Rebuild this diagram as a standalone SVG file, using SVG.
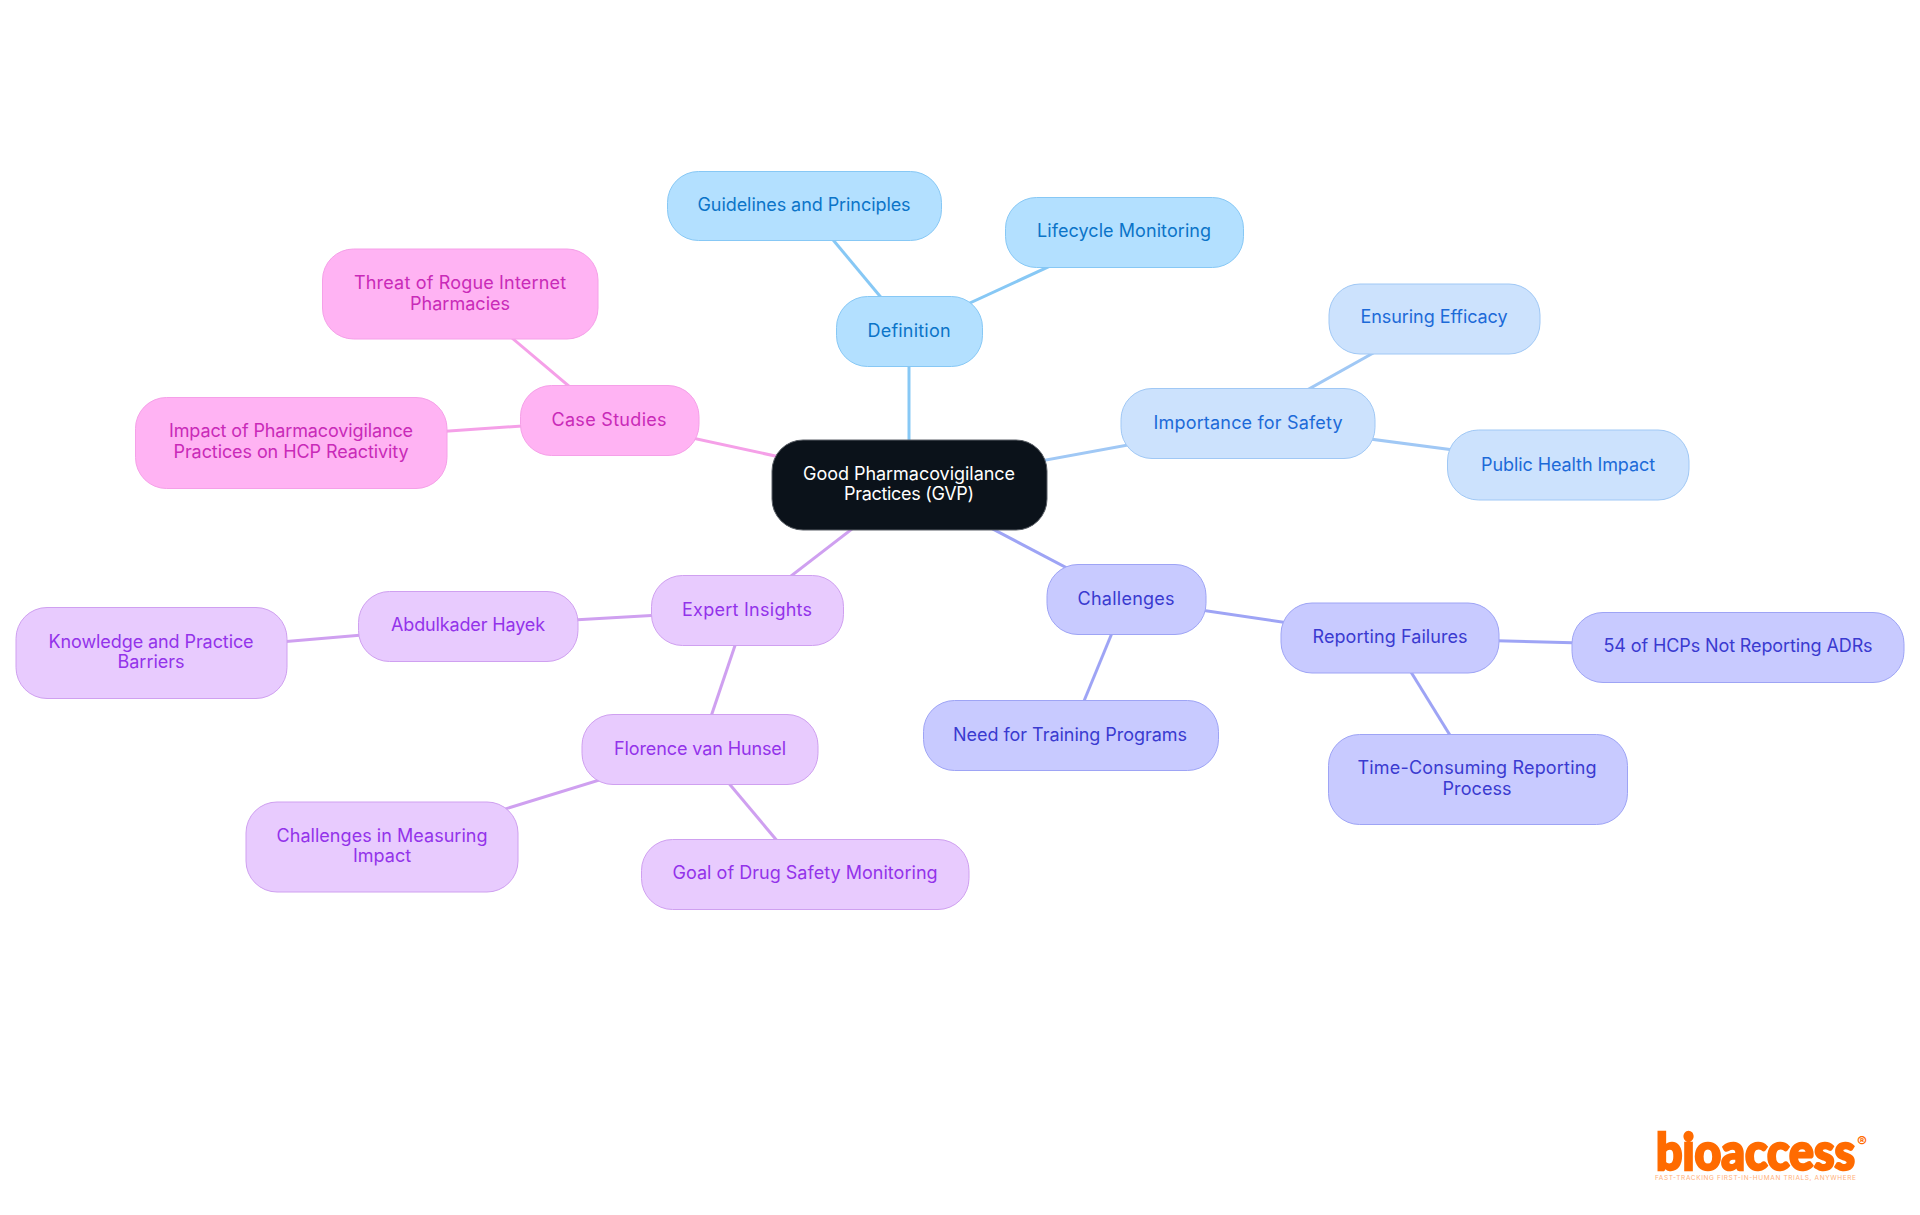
<svg xmlns="http://www.w3.org/2000/svg" width="1920" height="1215" viewBox="0 0 1920 1215">
<style>
text{font-family:"Inter","Noto Sans",sans-serif;font-size:18px;font-weight:400;text-anchor:middle;letter-spacing:-.1px}
.n rect{stroke-width:1;rx:31px}
.e line{stroke-width:3;fill:none}
.root rect{fill:#0b121a;stroke:#5a5f66}.root text{fill:#fff}
.a rect{fill:#b3e0ff;stroke:#87c8f5}.a text{fill:#0b74c8}
.b rect{fill:#cce2fd;stroke:#a0c8f5}.b text{fill:#1c6ad8}
.c rect{fill:#c8caff;stroke:#9ea4f5}.c text{fill:#3a3ad0}
.d rect{fill:#e8cbfe;stroke:#cfa0f0}.d text{fill:#9333ea}
.f rect{fill:#ffb3f3;stroke:#f5a0e8}.f text{fill:#c92ab8}
.la{stroke:#87c8f5}.lb{stroke:#a0c8f5}.lc{stroke:#9ea4f5}.ld{stroke:#cfa0f0}.lf{stroke:#f5a0e8}
</style>
<g id="connectors" class="e">
<line class="la" x1="909" y1="485" x2="909" y2="331"/>
<line class="la" x1="909" y1="331" x2="804" y2="205"/>
<line class="la" x1="909" y1="331" x2="1124" y2="232"/>
<line class="lb" x1="909" y1="485" x2="1248" y2="423"/>
<line class="lb" x1="1248" y1="423" x2="1434" y2="319"/>
<line class="lb" x1="1248" y1="423" x2="1568" y2="465"/>
<line class="lc" x1="909" y1="485" x2="1126" y2="599"/>
<line class="lc" x1="1126" y1="599" x2="1390" y2="638"/>
<line class="lc" x1="1126" y1="599" x2="1070" y2="735"/>
<line class="lc" x1="1390" y1="638" x2="1738" y2="647"/>
<line class="lc" x1="1390" y1="638" x2="1477" y2="779"/>
<line class="ld" x1="909" y1="485" x2="747" y2="610"/>
<line class="ld" x1="747" y1="610" x2="468" y2="626"/>
<line class="ld" x1="468" y1="626" x2="151" y2="653"/>
<line class="ld" x1="747" y1="610" x2="700" y2="749"/>
<line class="ld" x1="700" y1="749" x2="382" y2="847"/>
<line class="ld" x1="700" y1="749" x2="805" y2="874"/>
<line class="lf" x1="909" y1="485" x2="609" y2="420"/>
<line class="lf" x1="609" y1="420" x2="460" y2="294"/>
<line class="lf" x1="609" y1="420" x2="291" y2="442"/>
</g>
<g id="root" class="n root"><rect x="772" y="440" width="275" height="90"/><text x="909" y="480" textLength="212">Good Pharmacovigilance</text><text x="909" y="500" textLength="130">Practices (GVP)</text></g>
<g id="definition" class="n a"><rect x="836.500" y="296.500" width="146" height="70"/><text x="909" y="337" textLength="83">Definition</text></g>
<g id="guidelines" class="n a"><rect x="667.500" y="171.500" width="274" height="69"/><text x="804" y="211" textLength="213">Guidelines and Principles</text></g>
<g id="lifecycle" class="n a"><rect x="1005.500" y="197.500" width="238" height="70"/><text x="1124" y="237" textLength="174">Lifecycle Monitoring</text></g>
<g id="importance" class="n b"><rect x="1121" y="388.500" width="254" height="70"/><text x="1248" y="429" textLength="189">Importance for Safety</text></g>
<g id="efficacy" class="n b"><rect x="1329" y="284" width="211" height="70"/><text x="1434" y="323" textLength="147">Ensuring Efficacy</text></g>
<g id="publichealth" class="n b"><rect x="1447.500" y="430" width="241.500" height="70"/><text x="1568" y="471" textLength="174">Public Health Impact</text></g>
<g id="challenges" class="n c"><rect x="1047" y="564.500" width="159" height="70"/><text x="1126" y="605" textLength="97">Challenges</text></g>
<g id="reporting" class="n c"><rect x="1281" y="603" width="218" height="70"/><text x="1390" y="643" textLength="155">Reporting Failures</text></g>
<g id="hcps" class="n c"><rect x="1572" y="612.500" width="332" height="70"/><text x="1738" y="652" textLength="269">54 of HCPs Not Reporting ADRs</text></g>
<g id="timeconsuming" class="n c"><rect x="1328.500" y="734.500" width="299" height="90"/><text x="1477" y="774" textLength="239">Time-Consuming Reporting</text><text x="1477" y="795" textLength="69">Process</text></g>
<g id="training" class="n c"><rect x="923.500" y="700.500" width="295" height="70"/><text x="1070" y="741" textLength="234">Need for Training Programs</text></g>
<g id="expert" class="n d"><rect x="651.500" y="575.500" width="192" height="70"/><text x="747" y="616" textLength="130">Expert Insights</text></g>
<g id="abdulkader" class="n d"><rect x="358.500" y="591.500" width="219.500" height="70"/><text x="468" y="631" textLength="154">Abdulkader Hayek</text></g>
<g id="barriers" class="n d"><rect x="16" y="607.500" width="271" height="91"/><text x="151" y="648" textLength="205">Knowledge and Practice</text><text x="151" y="668" textLength="67">Barriers</text></g>
<g id="florence" class="n d"><rect x="582" y="714.500" width="236" height="70"/><text x="700" y="755" textLength="172">Florence van Hunsel</text></g>
<g id="measuring" class="n d"><rect x="246" y="802" width="272" height="90"/><text x="382" y="842" textLength="211">Challenges in Measuring</text><text x="382" y="862" textLength="58">Impact</text></g>
<g id="goal" class="n d"><rect x="641.500" y="839.500" width="327.500" height="70"/><text x="805" y="879" textLength="265">Goal of Drug Safety Monitoring</text></g>
<g id="casestudies" class="n f"><rect x="520.500" y="385.500" width="178.500" height="70"/><text x="609" y="426" textLength="115">Case Studies</text></g>
<g id="threat" class="n f"><rect x="322.500" y="249" width="275.500" height="90"/><text x="460" y="289" textLength="212">Threat of Rogue Internet</text><text x="460" y="310" textLength="100">Pharmacies</text></g>
<g id="impact" class="n f"><rect x="135.500" y="397.500" width="311.500" height="91"/><text x="291" y="437" textLength="244">Impact of Pharmacovigilance</text><text x="291" y="458" textLength="235">Practices on HCP Reactivity</text></g>
<g id="logo">
<text x="1656" y="1170" textLength="199" lengthAdjust="spacingAndGlyphs" style="text-anchor:start;font-family:Lato,sans-serif;font-size:52px;font-weight:900;fill:#ff6b00;stroke:#ff6b00;stroke-width:2.500;letter-spacing:0">bioaccess</text>
<text x="1862" y="1147" style="font-size:15px;font-weight:700;fill:#ff6b00;letter-spacing:0">®</text>
<text x="1655" y="1180" textLength="201" style="text-anchor:start;font-size:6.500px;fill:#ffb07a;letter-spacing:0">FAST-TRACKING FIRST-IN-HUMAN TRIALS, ANYWHERE</text>
</g>
</svg>
